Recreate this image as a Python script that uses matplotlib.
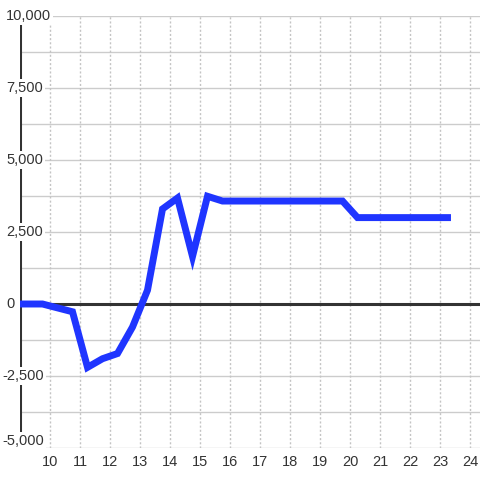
import matplotlib
matplotlib.use("Agg")
import matplotlib.pyplot as plt
import matplotlib.transforms as mtransforms

plt.rcParams['font.family'] = ['Liberation Sans', 'DejaVu Sans']

# hours of the day and the running value
horas = [9.0, 9.75, 10.75, 11.25, 11.75, 12.25, 12.75, 13.25, 13.75, 14.25, 14.75,
         15.25, 15.75, 16.25, 16.75, 17.25, 17.75, 18.25, 18.75, 19.25, 19.75,
         20.25, 20.75, 21.25, 21.75, 22.25, 22.75, 23.25]
valores = [0, 0, -270, -2200, -1900, -1720, -800, 480, 3300, 3680, 1650,
           3740, 3575, 3575, 3575, 3575, 3575, 3575, 3575, 3575, 3575,
           3000, 3000, 3000, 3000, 3000, 3000, 3000]

x_ticks = list(range(10, 25))
y_ticks = [-5000, -2500, 0, 2500, 5000, 7500, 10000]
y_grid = [-5000, -3750, -2500, -1250, 0, 1250, 2500, 3750, 5000, 6250, 7500, 8750, 10000]

fig = plt.figure(figsize=(4.8, 4.8), dpi=100)
ax = fig.add_axes([20 / 480, 32 / 480, 460 / 480, 432 / 480])
ax.set_xlim(9, 9 + 460 / 30)
ax.set_ylim(-5000, 10000)

for s in ax.spines.values():
    s.set_visible(False)

# grid
for v in y_grid:
    ax.axhline(v, color='#cccccc', lw=1, zorder=1)
for v in x_ticks:
    ax.axvline(v, color='#c4c4c4', lw=1, ls=(0, (1.5, 1.5)), zorder=1)

ax.axhline(0, color='#333333', lw=2.2, zorder=2)
ax.axvline(9, color='#333333', lw=2.2, zorder=2)

ax.plot(horas, valores, color='#1f35ff', lw=5, solid_joinstyle='miter',
        solid_capstyle='projecting', zorder=3)

ax.set_xticks(x_ticks)
ax.set_xticklabels([str(t) for t in x_ticks])
ax.set_yticks([])
ax.tick_params(axis='x', length=0, pad=5, labelsize=10.5, labelcolor='#333333')

# y labels drawn over the axis line
trans = mtransforms.blended_transform_factory(fig.transFigure, ax.transData)
for v in y_ticks:
    txt = f"{v:,}"
    x0 = 2 / 480 if v < 0 else 6 / 480
    off = mtransforms.ScaledTranslation(0, 7 / 100 if v == -5000 else 0, fig.dpi_scale_trans)
    ax.text(x0, v, txt, transform=trans + off, ha='left', va='center', fontsize=10.5,
            color='#333333', zorder=5, clip_on=False,
            bbox=dict(boxstyle='square,pad=0.15', fc='white', ec='none'))

fig.savefig('out.png', dpi=100)
